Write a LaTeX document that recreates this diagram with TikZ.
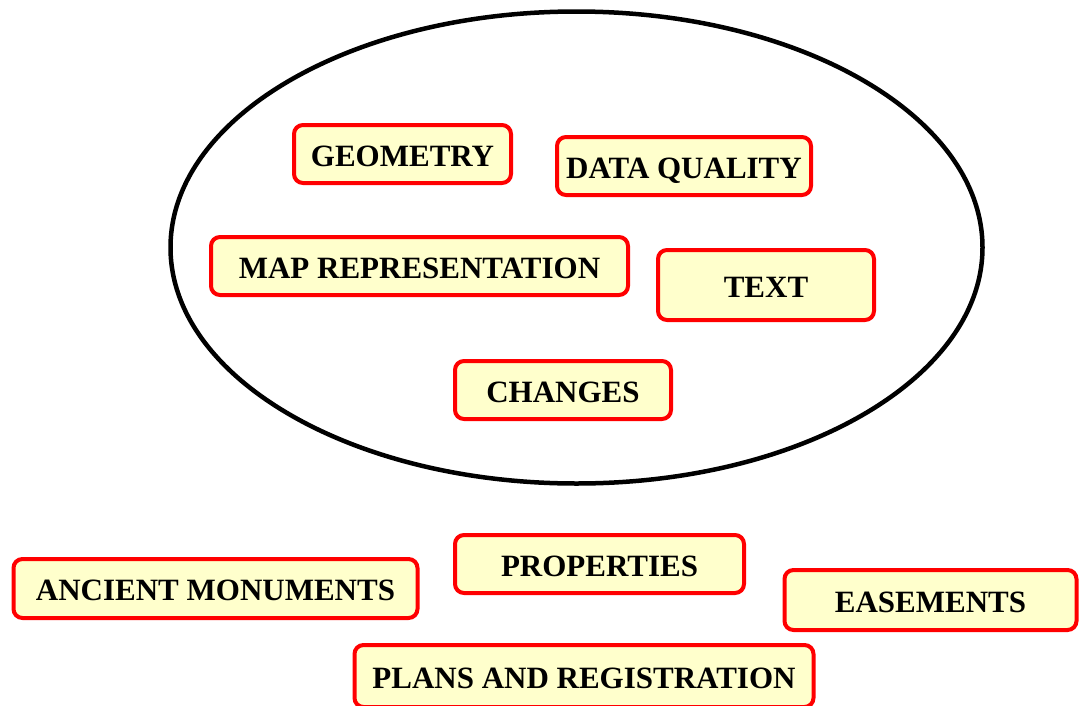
\documentclass[tikz,border=0pt]{standalone}
\usepackage{fontspec}
\setmainfont{Liberation Serif}
\usetikzlibrary{shapes.geometric}
\begin{document}
\begin{tikzpicture}[x=1pt,y=-1pt,
  tag/.style={draw=red, line width=4pt, fill={rgb,255:red,255;green,255;blue,204},
    rounded corners=9pt, inner sep=0pt, text height=24pt, text depth=0pt,
    font=\fontsize{31}{36}\selectfont\bfseries},
  ring/.style={draw=black, line width=4.5pt}]
\useasboundingbox (0,0) rectangle (1080,705);
\begin{scope}
\clip (0,0) rectangle (1080,705);
\node[ring, ellipse, minimum width=812pt, minimum height=472pt, inner sep=0pt] (ell) at (576.5,247.5) {};
\node[tag, minimum width=217pt, minimum height=58pt] (geom) at (402.5,154) {GEOMETRY};
\node[tag, minimum width=254pt, minimum height=58pt] (dq) at (684,166) {DATA QUALITY};
\node[tag, minimum width=417pt, minimum height=58pt] (map) at (419.5,266) {MAP REPRESENTATION};
\node[tag, minimum width=216pt, minimum height=70pt] (text) at (766,285) {TEXT};
\node[tag, minimum width=216pt, minimum height=58pt] (chg) at (563,390) {CHANGES};
\node[tag, minimum width=289pt, minimum height=58pt] (prop) at (599.5,564) {PROPERTIES};
\node[tag, minimum width=404pt, minimum height=59pt] (anc) at (215.5,588.5) {ANCIENT MONUMENTS};
\node[tag, minimum width=292pt, minimum height=60pt] (eas) at (930.5,600) {EASEMENTS};
\node[tag, minimum width=459pt, minimum height=62pt] (plans) at (584,676) {PLANS AND REGISTRATION};
\end{scope}
\end{tikzpicture}
\end{document}
